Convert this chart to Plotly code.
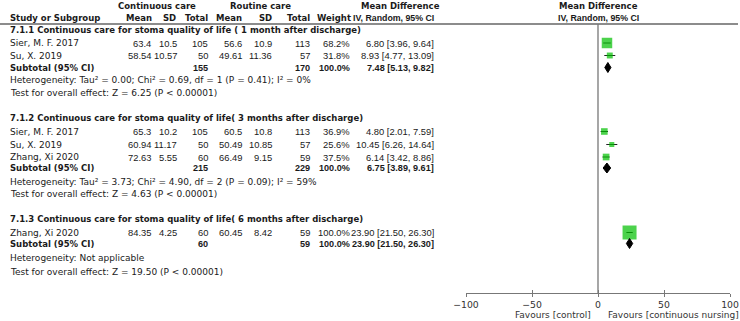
import plotly.graph_objects as go

# ---------------- data ----------------
group_titles = [
    "7.1.1 Continuous care for stoma quality of life ( 1 month after discharge)",
    "7.1.2 Continuous care for stoma quality of life( 3 months after discharge)",
    "7.1.3 Continuous care for stoma quality of life( 6 months after discharge)",
]
study_names = ["Sier, M. F. 2017", "Su, X. 2019", "Sier, M. F. 2017", "Su, X. 2019",
               "Zhang, Xi 2020", "Zhang, Xi 2020"]
cont_mean = [63.4, 58.54, 65.3, 60.94, 72.63, 84.35]
cont_sd = [10.5, 10.57, 10.2, 11.17, 5.55, 4.25]
cont_n = [105, 50, 105, 50, 60, 60]
rout_mean = [56.6, 49.61, 60.5, 50.49, 66.49, 60.45]
rout_sd = [10.9, 11.36, 10.8, 10.85, 9.15, 8.42]
rout_n = [113, 57, 113, 57, 59, 59]
weight = [68.2, 31.8, 36.9, 25.6, 37.5, 100.0]
md = [6.80, 8.93, 4.80, 10.45, 6.14, 23.90]
md_lo = [3.96, 4.77, 2.01, 6.26, 3.42, 21.50]
md_hi = [9.64, 13.09, 7.59, 14.64, 8.86, 26.30]

sub_cont_n = [155, 215, 60]
sub_rout_n = [170, 229, 59]
sub_md = [7.48, 6.75, 23.90]
sub_lo = [5.13, 3.89, 21.50]
sub_hi = [9.82, 9.61, 26.30]
heterogeneity = [
    "Heterogeneity: Tau² = 0.00; Chi² = 0.69, df = 1 (P = 0.41); I² = 0%",
    "Heterogeneity: Tau² = 3.73; Chi² = 4.90, df = 2 (P = 0.09); I² = 59%",
    "Heterogeneity: Not applicable",
]
overall = [
    "Test for overall effect: Z = 6.25 (P < 0.00001)",
    "Test for overall effect: Z = 4.63 (P < 0.00001)",
    "Test for overall effect: Z = 19.50 (P < 0.00001)",
]
tick_vals = [-100, -50, 0, 50, 100]
tick_text = ["−100", "−50", "0", "50", "100"]
favour_left = "Favours [control]"
favour_right = "Favours [continuous nursing]"

# ---------------- layout (pixel positions) ----------------
W, H = 740, 321
title_y = [30, 118, 219]
study_y = [43, 55.5, 131.5, 144.5, 157, 232.5]
subtotal_y = [67.5, 168, 243.5]
het_y = [80, 182, 258]
test_y = [93, 194, 272]
axis_y = 293
FONT = "DejaVu Sans"
NFONT = "Liberation Sans"
FS_TEXT = 9.0
FS_BOLD = 8.5
FS_NUM = 9.4
FS_BNUM = 9.1
TXT = "#1a1a1a"
GREEN = "#00bf00"

def px(x):
    return x / W

fig = go.Figure()
ann = []

def add_text(x, y, text, anchor="left", bold=False, size=FS_TEXT, color=TXT, family=FONT):
    ann.append(dict(x=px(x), y=y, xref="paper", yref="y", text=("<b>%s</b>" % text) if bold else text,
                    showarrow=False, xanchor=anchor, yanchor="middle", borderpad=0,
                    font=dict(family=family, size=size, color=color)))

def add_num(x, y, text, bold=False):
    add_text(x, y, text, "right", bold, FS_BNUM if bold else FS_NUM, TXT, NFONT)

# headers
add_text(157, 5.5, "Continuous care", "center", True, FS_BOLD)
add_text(260, 5.5, "Routine care", "center", True, FS_BOLD)
add_text(400, 5.5, "Mean Difference", "center", True, FS_BOLD)
add_text(598, 5.5, "Mean Difference", "center", True, FS_BOLD)
hdr_y = 17.5
add_text(9, hdr_y, "Study or Subgroup", "left", True, FS_BOLD)
col_right = dict(cm=152, csd=178, cn=209, rm=243, rsd=273, rn=311, w=351, ci=435)
add_text(153, hdr_y, "Mean", "right", True, FS_BOLD)
add_text(177, hdr_y, "SD", "right", True, FS_BOLD)
add_text(col_right["cn"], hdr_y, "Total", "right", True, FS_BOLD)
add_text(col_right["rm"], hdr_y, "Mean", "right", True, FS_BOLD)
add_text(col_right["rsd"], hdr_y, "SD", "right", True, FS_BOLD)
add_text(col_right["rn"], hdr_y, "Total", "right", True, FS_BOLD)
add_text(352, hdr_y, "Weight", "right", True, FS_BOLD)
add_text(col_right["ci"], hdr_y, "IV, Random, 95% CI", "right", True, 8.8, TXT, NFONT)
add_text(598, hdr_y, "IV, Random, 95% CI", "center", True, 8.8, TXT, NFONT)

for g in range(3):
    add_text(9, title_y[g], group_titles[g], "left", True, FS_BOLD)

for i, name in enumerate(study_names):
    y = study_y[i]
    add_text(9, y, name)
    add_num(col_right["cm"], y, str(cont_mean[i]))
    add_num(col_right["csd"], y, str(cont_sd[i]))
    add_num(col_right["cn"], y, str(cont_n[i]))
    add_num(col_right["rm"], y, str(rout_mean[i]))
    add_num(col_right["rsd"], y, str(rout_sd[i]))
    add_num(col_right["rn"], y, str(rout_n[i]))
    add_num(col_right["w"], y, "%.1f%%" % weight[i])
    add_num(col_right["ci"], y, "%.2f [%.2f, %.2f]" % (md[i], md_lo[i], md_hi[i]))

for g in range(3):
    y = subtotal_y[g]
    add_text(9, y, "Subtotal (95% CI)", "left", True, FS_BOLD)
    add_num(col_right["cn"], y, str(sub_cont_n[g]), True)
    add_num(col_right["rn"], y, str(sub_rout_n[g]), True)
    add_num(col_right["w"], y, "100.0%", True)
    add_num(col_right["ci"], y, "%.2f [%.2f, %.2f]" % (sub_md[g], sub_lo[g], sub_hi[g]), True)
    add_text(9, het_y[g], heterogeneity[g])
    add_text(9, test_y[g], overall[g])

add_text(592, 314.5, favour_left, "right", color="#333")
add_text(607, 314.5, favour_right, "left", color="#333")

# CI whiskers
for i in range(len(md)):
    fig.add_trace(go.Scatter(x=[md_lo[i], md_hi[i]], y=[study_y[i], study_y[i]], mode="lines",
                             line=dict(color="#222", width=1), showlegend=False, hoverinfo="skip"))
# squares
fig.add_trace(go.Scatter(x=md, y=study_y, mode="markers",
                         marker=dict(symbol="square", color=GREEN,
                                     size=[14 * (w / 100) ** 0.75 for w in weight], line=dict(width=0)),
                         showlegend=False, hoverinfo="skip"))
# diamonds
for g in range(3):
    y = subtotal_y[g]
    fig.add_trace(go.Scatter(x=[sub_lo[g], sub_md[g], sub_hi[g], sub_md[g], sub_lo[g]],
                             y=[y, y - 5, y, y + 5, y], mode="lines", fill="toself",
                             fillcolor="#000", line=dict(color="#000", width=1),
                             showlegend=False, hoverinfo="skip"))

shapes = [
    dict(type="line", xref="paper", yref="y", x0=0, x1=px(738), y0=24, y1=24,
         line=dict(color="#666", width=1.3)),
    dict(type="line", xref="x", yref="y", x0=0, x1=0, y0=24, y1=axis_y,
         line=dict(color="#777", width=1.3)),
]

fig.update_layout(
    template="none",
    width=W, height=H, margin=dict(l=0, r=0, t=0, b=0, pad=0, autoexpand=False),
    paper_bgcolor="white", plot_bgcolor="white",
    annotations=ann, shapes=shapes, showlegend=False,
    xaxis=dict(domain=[px(466), px(730)], range=[-100, 100], anchor="free", automargin=False,
               position=1 - axis_y / H, showline=True, linecolor="#777", linewidth=1.3,
               ticks="outside", ticklen=3, tickcolor="#777", tickwidth=1.3,
               tickvals=tick_vals, ticktext=tick_text, showgrid=False, zeroline=False,
               tickfont=dict(family=FONT, size=9.3, color="#333")),
    xaxis2=dict(domain=[px(466), px(730)], range=[-100, 100], anchor="free", overlaying="x",
                automargin=False, position=1 - axis_y / H, showline=False, ticks="inside", ticklen=3,
                tickcolor="#777", tickwidth=1.3, tickvals=tick_vals, showticklabels=False,
                showgrid=False, zeroline=False, side="bottom"),
    yaxis=dict(range=[H, 0], domain=[0, 1], visible=False, automargin=False),
)
fig.add_trace(go.Scatter(x=[None], y=[None], xaxis="x2", showlegend=False))

fig.write_html("out.html", config={"displayModeBar": False},
               post_script="document.body.style.margin='0';")
